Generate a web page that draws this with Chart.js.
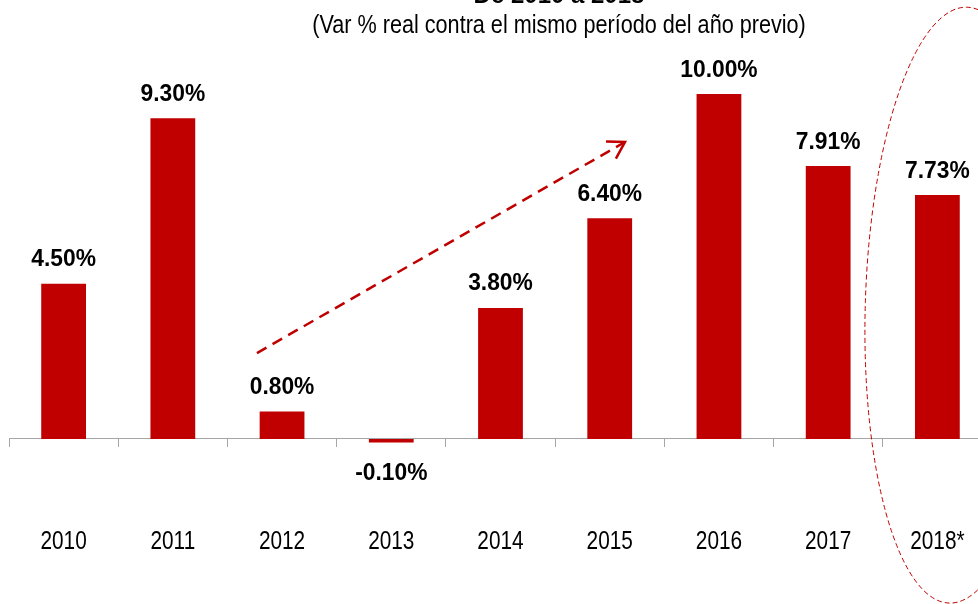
<!DOCTYPE html>
<html>
<head>
<meta charset="utf-8">
<script src="https://cdn.jsdelivr.net/npm/chart.js@4.4.1/dist/chart.umd.min.js"></script>
<style>
  html, body { margin: 0; padding: 0; background: #fff; overflow: hidden; }
  #wrap { width: 1000px; height: 604px; }
</style>
</head>
<body>
<div id="wrap"><canvas id="chart" width="1000" height="604"></canvas></div>
<script>
const years = ['2010', '2011', '2012', '2013', '2014', '2015', '2016', '2017', '2018*'];
// bar heights as drawn (the 2018 estimate bar is drawn lower than its label)
const growth = [4.5, 9.3, 0.8, -0.1, 3.8, 6.4, 10.0, 7.91, 7.07];
const growthLabels = ['4.50%', '9.30%', '0.80%', '-0.10%', '3.80%', '6.40%', '10.00%', '7.91%', '7.73%'];
const titleText = 'De 2010 a 2018';
const subtitleText = '(Var % real contra el mismo período del año previo)';

// trend arrow, in (category index, value) units
const trendStart = [1.77, 2.49];
const trendEnd = [5.14, 8.61];
// dashed oval round the 2018 estimate, in (category index, value) units
const ovalCenter = [8.19, 3.88];
const ovalRadius = [0.85, 8.64];

const RED = '#C00000';
const AXIS_GREY = '#A6A6A6';
const FONT = "'Liberation Sans', Arial, sans-serif";

function squeezedText(ctx, text, x, y, font, sx) {
  ctx.save();
  ctx.font = font;
  ctx.fillStyle = '#000';
  ctx.textAlign = 'center';
  ctx.textBaseline = 'alphabetic';
  ctx.translate(x, y);
  ctx.scale(sx, 1);
  ctx.fillText(text, 0, 0);
  ctx.restore();
}

const decorations = {
  id: 'decorations',
  afterDraw(chart) {
    const ctx = chart.ctx;
    const xs = chart.scales.x;
    const ys = chart.scales.y;
    const zeroY = ys.getPixelForValue(0);

    // titles (first line runs off the top edge)
    squeezedText(ctx, titleText, 559, 3, 'bold 24px ' + FONT, 1);
    squeezedText(ctx, subtitleText, 559, 33, '25px ' + FONT, 0.865);

    // year labels under the axis
    years.forEach((y, i) => {
      squeezedText(ctx, y, xs.getPixelForTick(i), zeroY + 110, '26px ' + FONT, 0.8);
    });

    // value labels
    chart.getDatasetMeta(0).data.forEach((bar, i) => {
      const yy = growth[i] >= 0 ? bar.y - 17.5 : bar.y + 38;
      squeezedText(ctx, growthLabels[i], bar.x, yy, 'bold 24px ' + FONT, 0.95);
    });

    // dashed trend arrow
    const x1 = xs.getPixelForValue(trendStart[0]), y1 = ys.getPixelForValue(trendStart[1]);
    const x2 = xs.getPixelForValue(trendEnd[0]), y2 = ys.getPixelForValue(trendEnd[1]);
    ctx.save();
    ctx.strokeStyle = RED;
    ctx.lineWidth = 2.5;
    ctx.setLineDash([11, 7]);
    ctx.beginPath();
    ctx.moveTo(x1, y1);
    ctx.lineTo(x2, y2);
    ctx.stroke();
    ctx.setLineDash([]);
    const ang = Math.atan2(y1 - y2, x1 - x2);
    const head = 19;
    ctx.beginPath();
    ctx.moveTo(x2 + head * Math.cos(ang + 0.55), y2 + head * Math.sin(ang + 0.55));
    ctx.lineTo(x2, y2);
    ctx.lineTo(x2 + head * Math.cos(ang - 0.55), y2 + head * Math.sin(ang - 0.55));
    ctx.stroke();
    ctx.restore();

    // dashed oval
    const cx = xs.getPixelForValue(ovalCenter[0]);
    const cy = ys.getPixelForValue(ovalCenter[1]);
    const rx = xs.getPixelForValue(ovalCenter[0] + ovalRadius[0]) - cx;
    const ry = ys.getPixelForValue(ovalCenter[1]) - ys.getPixelForValue(ovalCenter[1] + ovalRadius[1]);
    ctx.save();
    ctx.strokeStyle = RED;
    ctx.lineWidth = 1;
    ctx.setLineDash([5, 3]);
    ctx.beginPath();
    ctx.ellipse(cx, cy, rx, ry, 0.03, 0, Math.PI * 2);
    ctx.stroke();
    ctx.restore();
  }
};

new Chart(document.getElementById('chart'), {
  type: 'bar',
  data: {
    labels: years,
    datasets: [{
      data: growth,
      backgroundColor: RED,
      borderWidth: 0,
      categoryPercentage: 1,
      barPercentage: 0.41
    }]
  },
  options: {
    responsive: false,
    animation: false,
    devicePixelRatio: 1,
    layout: { padding: { left: 9, right: 8, top: 0, bottom: 0 } },
    plugins: { legend: { display: false }, tooltip: { enabled: false }, title: { display: false } },
    scales: {
      y: { display: false, min: -4.783, max: 12.725 },
      x: {
        position: { y: 0 },
        offset: true,
        ticks: { display: false },
        grid: { display: true, drawOnChartArea: false, drawTicks: true, tickLength: 8, color: AXIS_GREY, offset: true },
        border: { display: true, color: AXIS_GREY, width: 1 }
      }
    }
  },
  plugins: [decorations]
});
</script>
</body>
</html>
